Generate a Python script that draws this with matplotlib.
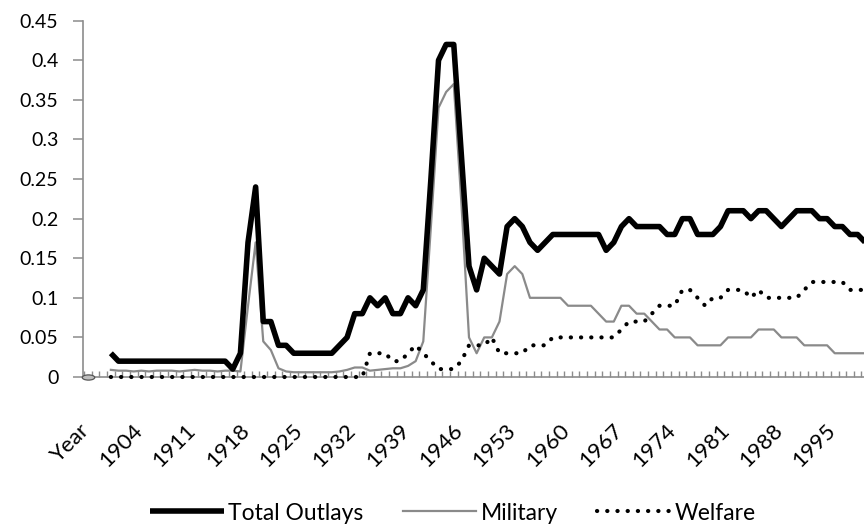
import numpy as np
import matplotlib
matplotlib.use("Agg")
import matplotlib.pyplot as plt
from matplotlib.path import Path
from matplotlib.transforms import Affine2D, ScaledTranslation
from matplotlib.ticker import FixedLocator, FuncFormatter

plt.rcParams['font.family'] = ['Lato', 'DejaVu Sans']

# ── Data (share of GDP, 1900-1999) ─────────────────────────────────────────────
first_year = 1898
categories = ["Year"] + [str(y) for y in range(first_year, 2000)]
years = list(range(1900, 2000))

total_outlays = (
    [0.03] + [0.02] * 15 + [0.01, 0.03, 0.17, 0.24, 0.07, 0.07, 0.04, 0.04]   # 1900-1923
    + [0.03] * 6                                                              # 1924-1929
    + [0.04, 0.05, 0.08, 0.08, 0.10, 0.09, 0.10, 0.08, 0.08, 0.10,            # 1930-1939
       0.09, 0.11, 0.25, 0.40, 0.42, 0.42, 0.28, 0.14, 0.11, 0.15,            # 1940-1949
       0.14, 0.13, 0.19, 0.20, 0.19, 0.17, 0.16, 0.17]                        # 1950-1957
    + [0.18] * 7                                                              # 1958-1964
    + [0.16, 0.17, 0.19, 0.20, 0.19, 0.19, 0.19, 0.19, 0.18, 0.18,            # 1965-1974
       0.20, 0.20, 0.18, 0.18, 0.18, 0.19, 0.21, 0.21, 0.21, 0.20,            # 1975-1984
       0.21, 0.21, 0.20, 0.19, 0.20, 0.21, 0.21, 0.21, 0.20, 0.20,            # 1985-1994
       0.19, 0.19, 0.18, 0.18, 0.17]                                          # 1995-1999
)

military = (
    [0.009, 0.008, 0.008, 0.007, 0.008, 0.007, 0.008, 0.008, 0.008,           # 1900-1908
     0.007, 0.008, 0.009, 0.008, 0.008, 0.007, 0.008, 0.008, 0.007]           # 1909-1917
    + [0.09, 0.17, 0.045, 0.034, 0.011, 0.007]                                # 1918-1923
    + [0.006] * 6                                                             # 1924-1929
    + [0.007, 0.009, 0.012, 0.012, 0.008, 0.009, 0.010, 0.011, 0.011, 0.014,  # 1930-1939
       0.02, 0.045, 0.19, 0.34, 0.36, 0.37, 0.22, 0.05, 0.03, 0.05,           # 1940-1949
       0.05, 0.07, 0.13, 0.14, 0.13, 0.10]                                    # 1950-1955
    + [0.10] * 4 + [0.09] * 4                                                 # 1956-1963
    + [0.08, 0.07, 0.07, 0.09, 0.09, 0.08, 0.08, 0.07, 0.06, 0.06,            # 1964-1973
       0.05, 0.05, 0.05]                                                      # 1974-1976
    + [0.04] * 4 + [0.05] * 4 + [0.06] * 3 + [0.05] * 3 + [0.04] * 4          # 1977-1994
    + [0.03] * 5                                                              # 1995-1999
)

welfare = (
    [0.0] * 34                                                                # 1900-1933
    + [0.03, 0.03, 0.03, 0.02, 0.02, 0.03,                                    # 1934-1939
       0.04, 0.03, 0.02, 0.01, 0.01, 0.01, 0.02, 0.04, 0.04, 0.04,            # 1940-1949
       0.05, 0.03, 0.03, 0.03, 0.03, 0.04, 0.04, 0.04]                        # 1950-1957
    + [0.05] * 9                                                              # 1958-1966
    + [0.06, 0.07, 0.07, 0.07, 0.08, 0.09, 0.09, 0.09, 0.11, 0.11,            # 1967-1976
       0.10, 0.09, 0.10, 0.10, 0.11, 0.11, 0.11, 0.10, 0.11, 0.10]            # 1977-1986
    + [0.10] * 3 + [0.10, 0.11, 0.12] + [0.12] * 4 + [0.11] * 3               # 1987-1999
)

year_row = [0.0]   # the stray "Year" header row, plotted as a zero stub

# ── Figure ────────────────────────────────────────────────────────────────────
W, H = 864, 526
fig = plt.figure(figsize=(W / 100, H / 100), dpi=100, facecolor="white")

step = 7.62                       # pixels per category
x0_px = 88                        # centre of category 0
xlo = -0.6
xhi = (W - x0_px) / step
left_px = x0_px + xlo * step
ax = fig.add_axes([left_px / W, 1 - 377 / H, (W - left_px) / W, (377 - 20.7) / H])

idx = [categories.index(str(y)) for y in years]
axis_grey = "#8c8c8c"

ax.plot(idx, military, color="#8a8a8a", lw=1.6, solid_joinstyle="round",
        label="Military", zorder=3)
ax.plot(idx, welfare, color="black", lw=3.0, linestyle=(0, (0.05, 2.4)),
        dash_capstyle="round", label="Welfare", zorder=4, clip_on=False)
ax.plot(idx, total_outlays, color="black", lw=4.0, solid_joinstyle="round",
        solid_capstyle="butt", label="Total Outlays", zorder=5)

# little oval stub at the "Year" category
oval = Path.unit_circle().transformed(Affine2D().scale(2.4, 1.0))
ax.plot([categories.index("Year")], year_row, linestyle="none", marker=oval,
        markersize=9, markerfacecolor="#bdbdbd", markeredgecolor="#555555",
        markeredgewidth=0.9, clip_on=False, zorder=6)

ax.set_xlim(xlo, xhi)
ax.set_ylim(0, 0.45)

# axes styling (Excel-like)
for side in ("top", "right"):
    ax.spines[side].set_visible(False)
for side in ("left", "bottom"):
    ax.spines[side].set_color(axis_grey)
    ax.spines[side].set_linewidth(1.2)

ax.yaxis.set_major_locator(FixedLocator(np.arange(0, 0.451, 0.05)))
ax.yaxis.set_major_formatter(FuncFormatter(lambda v, p: f"{round(v, 2):g}"))
ax.tick_params(axis="y", direction="out", length=7, width=1.1, color=axis_grey,
               labelsize=14, pad=11)

label_pos = list(range(0, len(categories), 7))
ax.xaxis.set_major_locator(FixedLocator(label_pos))
ax.set_xticklabels([categories[i] for i in label_pos])
ax.xaxis.set_minor_locator(FixedLocator(np.arange(-0.5, len(categories), 1.0)))
ax.tick_params(axis="x", which="major", length=0, labelsize=16, pad=31)
ax.tick_params(axis="x", which="minor", direction="in", length=4, width=1.0,
               color=axis_grey)
shift = ScaledTranslation(-0.09, 0, fig.dpi_scale_trans)
for lab in ax.get_xticklabels():
    lab.set_rotation(45)
    lab.set_ha("right")
    lab.set_va("top")
    lab.set_rotation_mode("anchor")
    lab.set_transform(lab.get_transform() + shift)

handles, labels = ax.get_legend_handles_labels()
order = [labels.index(n) for n in ("Total Outlays", "Military", "Welfare")]
fig.legend([handles[i] for i in order], [labels[i] for i in order],
           loc="center", bbox_to_anchor=(453 / W, 1 - 513 / H), ncol=3,
           frameon=False, fontsize=16.5, handlelength=3.2, handletextpad=0.2,
           columnspacing=1.7)

fig.savefig("out.png", dpi=100, facecolor="white")
